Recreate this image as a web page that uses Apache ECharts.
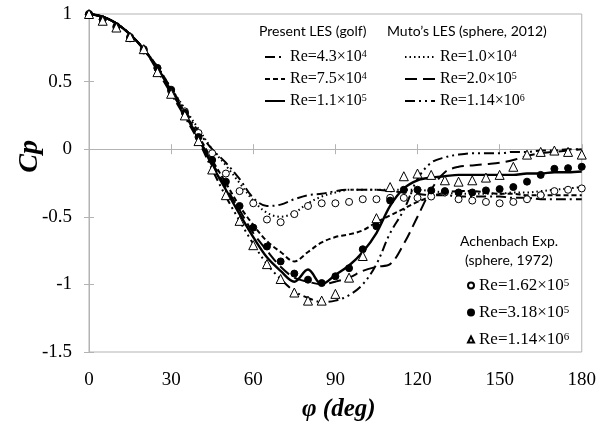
<!DOCTYPE html>
<html>
<head>
<meta charset="utf-8">
<script src="https://cdn.jsdelivr.net/npm/echarts@6/dist/echarts.min.js"></script>
<style>
  html, body { margin: 0; padding: 0; background: #fff; }
  #chart { width: 599px; height: 426px; }
</style>
</head>
<body>
<div id="chart"></div>
<script>
// angle from the front stagnation point (deg)
const phi = [0, 5, 10, 15, 20, 25, 30, 35, 40, 45, 50, 55, 60, 65, 70, 75, 80, 85, 90,
  95, 100, 105, 110, 115, 120, 125, 130, 135, 140, 145, 150, 155, 160, 165, 170, 175, 180];

// Present LES (golf)
const golf43 = [1.0, 0.98, 0.93, 0.85, 0.74, 0.61, 0.45, 0.29, 0.13, 0.0, -0.1, -0.22, -0.36, -0.42, -0.41, -0.37, -0.34, -0.33, -0.31,
  -0.3, -0.3, -0.3, -0.31, -0.32, -0.33, -0.34, -0.34, -0.35, -0.35, -0.35, -0.35, -0.36, -0.36, -0.37, -0.37, -0.37, -0.37];
const golf75 = [1.0, 0.98, 0.93, 0.85, 0.74, 0.6, 0.44, 0.27, 0.1, -0.08, -0.25, -0.42, -0.56, -0.68, -0.76, -0.83, -0.76, -0.69, -0.65,
  -0.63, -0.6, -0.54, -0.49, -0.44, -0.39, -0.35, -0.32, -0.31, -0.31, -0.32, -0.33, -0.33, -0.34, -0.34, -0.34, -0.34, -0.34];
const golf11 = [1.0, 0.98, 0.93, 0.85, 0.74, 0.6, 0.43, 0.26, 0.08, -0.12, -0.3, -0.48, -0.65, -0.8, -0.9, -0.98, -0.89, -1.0, -0.93,
  -0.86, -0.76, -0.62, -0.42, -0.29, -0.23, -0.21, -0.2, -0.19, -0.19, -0.19, -0.19, -0.19, -0.18, -0.18, -0.17, -0.17, -0.165];

// Muto's LES (sphere, 2012)
const muto10k = [1.0, 0.98, 0.93, 0.85, 0.74, 0.61, 0.45, 0.3, 0.15, 0.0, -0.12, -0.25, -0.38, -0.47, -0.5, -0.47, -0.4, -0.35, -0.32,
  -0.3, -0.3, -0.3, -0.3, -0.3, -0.3, -0.31, -0.32, -0.33, -0.33, -0.33, -0.33, -0.32, -0.32, -0.31, -0.3, -0.29, -0.28];
const muto200k = [1.0, 0.98, 0.93, 0.85, 0.74, 0.6, 0.43, 0.26, 0.08, -0.1, -0.28, -0.45, -0.62, -0.75, -0.87, -0.95, -0.98, -1.0, -0.98,
  -0.95, -0.9, -0.87, -0.85, -0.7, -0.5, -0.3, -0.17, -0.13, -0.12, -0.11, -0.1, -0.08, -0.05, -0.03, -0.02, -0.01, 0.0];
const muto114 = [1.0, 0.98, 0.93, 0.85, 0.74, 0.58, 0.41, 0.24, 0.06, -0.15, -0.35, -0.53, -0.7, -0.85, -0.96, -1.05, -1.1, -1.13, -1.12,
  -1.08, -1.0, -0.85, -0.62, -0.45, -0.22, -0.1, -0.06, -0.04, -0.03, -0.03, -0.03, -0.02, -0.02, -0.01, -0.01, 0.0, 0.0];

// Achenbach Exp. (sphere, 1972)
const ach162 = [1.0, 0.96, 0.9, 0.82, 0.73, 0.6, 0.43, 0.28, 0.12, -0.03, -0.18, -0.31, -0.4, -0.52, -0.54, -0.48, -0.42, -0.4, -0.4,
  -0.39, -0.37, -0.37, -0.36, -0.36, -0.36, -0.35, -0.32, -0.37, -0.38, -0.39, -0.4, -0.39, -0.37, -0.34, -0.31, -0.3, -0.29];
const ach318 = [1.0, 0.96, 0.91, 0.83, 0.74, 0.6, 0.44, 0.27, 0.09, -0.08, -0.24, -0.42, -0.58, -0.72, -0.83, -0.92, -0.965, -0.99, -0.94,
  -0.88, -0.74, -0.57, -0.38, -0.3, -0.3, -0.305, -0.31, -0.32, -0.32, -0.305, -0.295, -0.28, -0.24, -0.19, -0.145, -0.14, -0.13];
const ach114 = [1.0, 0.95, 0.9, 0.83, 0.74, 0.57, 0.41, 0.25, 0.06, -0.15, -0.34, -0.53, -0.71, -0.85, -0.96, -1.06, -1.12, -1.12, -1.07,
  -0.95, -0.79, -0.51, -0.28, -0.2, -0.18, -0.19, -0.23, -0.24, -0.23, -0.21, -0.19, -0.13, -0.04, -0.02, -0.01, -0.02, -0.04];

// legend labels (mantissa, exponent)
const labels = {
  golf43: ['4.3', '4'], golf75: ['7.5', '4'], golf11: ['1.1', '5'],
  muto10k: ['1.0', '4'], muto200k: ['2.0', '5'], muto114: ['1.14', '6'],
  ach162: ['1.62', '5'], ach318: ['3.18', '5'], ach114: ['1.14', '6']
};

const serif = '"Liberation Serif", "Times New Roman", serif';
const sans = 'Lato, "Open Sans", sans-serif';
const pair = (ys) => phi.map((p, i) => [p, ys[i]]);

const lineSeries = (name, ys, dash, width) => ({
  name: name,
  type: 'line',
  data: pair(ys),
  smooth: 0.35,
  symbol: 'none',
  lineStyle: { color: '#000', width: width || 2, type: dash, cap: 'butt' },
  itemStyle: { color: '#000' },
  z: 2
});
const pointSeries = (name, ys, symbol, fill, size) => ({
  name: name,
  type: 'scatter',
  data: pair(ys),
  symbol: symbol,
  symbolSize: size,
  itemStyle: { color: fill, borderColor: '#000', borderWidth: 1, opacity: 1 },
  z: 3
});

const legendText = (name) => {
  const l = labels[name];
  return 'Re=' + l[0] + '×10{s|' + l[1] + '}';
};
const legendBase = (data, left, top, size, extra) => Object.assign({
  data: data,
  left: left,
  top: top,
  orient: 'vertical',
  selectedMode: false,
  formatter: legendText,
  textStyle: {
    fontFamily: serif, fontSize: size, color: '#000', lineHeight: 16,
    rich: { s: { fontFamily: serif, fontSize: Math.round(size * 0.62), lineHeight: 16, verticalAlign: 'top', padding: [0, 0, 7, 0] } }
  }
}, extra);

const chart = echarts.init(document.getElementById('chart'));
chart.setOption({
  animation: false,
  grid: { left: 89, right: 16, top: 14, bottom: 74, show: true, borderColor: '#b3b3b3', borderWidth: 1 },
  xAxis: [{
    type: 'value', min: 0, max: 180, interval: 30,
    axisLine: { lineStyle: { color: '#b3b3b3' } },
    axisTick: { inside: true, length: 5, lineStyle: { color: '#b3b3b3' } },
    splitLine: { show: false },
    axisLabel: { fontFamily: serif, fontSize: 19, color: '#000', margin: 19 }
  }, {
    type: 'value', min: 0, max: 180, interval: 30, position: 'top',
    axisLine: { show: false },
    axisTick: { inside: true, length: 5, lineStyle: { color: '#b3b3b3' } },
    axisLabel: { show: false }, splitLine: { show: false }
  }],
  yAxis: [{
    type: 'value', min: -1.5, max: 1, interval: 0.5,
    axisLine: { show: true, lineStyle: { color: '#b3b3b3' } },
    axisTick: { show: true, inside: true, length: 5, lineStyle: { color: '#b3b3b3' } },
    splitLine: { show: false },
    axisLabel: { fontFamily: serif, fontSize: 19, color: '#000', margin: 17 }
  }, {
    type: 'value', min: -1.5, max: 1, interval: 0.5, position: 'right',
    axisLine: { show: false },
    axisTick: { show: true, inside: true, length: 5, lineStyle: { color: '#b3b3b3' } },
    axisLabel: { show: false }, splitLine: { show: false }
  }],
  legend: [
    legendBase(['golf43', 'golf75', 'golf11'], 259, 44, 16,
      { itemWidth: 20, itemHeight: 14, itemGap: 5, itemStyle: { opacity: 0 } }),
    legendBase(['muto10k', 'muto200k', 'muto114'], 399, 44, 16,
      { itemWidth: 30, itemHeight: 14, itemGap: 5, itemStyle: { opacity: 0 } }),
    legendBase(['ach162', 'ach318', 'ach114'], 462, 272, 17,
      { itemWidth: 6, itemHeight: 6, itemGap: 8.5 })
  ],
  graphic: [
    { type: 'text', left: 259, top: 24, style: { text: 'Present LES (golf)', font: '14px ' + sans, fill: '#000' } },
    { type: 'text', left: 387, top: 24, style: { text: 'Muto\u2019s LES (sphere, 2012)', font: '14px ' + sans, fill: '#000' } },
    { type: 'text', left: 460, top: 234, style: { text: 'Achenbach Exp.', font: '14px ' + sans, fill: '#000' } },
    { type: 'text', left: 465, top: 253, style: { text: '(sphere, 1972)', font: '14px ' + sans, fill: '#000' } },
    { type: 'text', left: 302, top: 397, style: { text: '\u03c6 (deg)', font: 'italic bold 25px ' + serif, fill: '#000' } },
    { type: 'text', left: 16, top: 140, rotation: Math.PI / 2, style: { text: 'Cp', font: 'italic bold 28px ' + serif, fill: '#000' } }
  ],
  series: [
    lineSeries('golf43', golf43, [10, 4, 2, 4]),
    lineSeries('golf75', golf75, [5, 3]),
    lineSeries('golf11', golf11, 'solid', 2.4),
    lineSeries('muto10k', muto10k, [1.5, 3]),
    lineSeries('muto200k', muto200k, [12, 6]),
    lineSeries('muto114', muto114, [10, 4, 2, 4, 2, 4]),
    pointSeries('ach162', ach162, 'circle', '#fff', 7),
    pointSeries('ach318', ach318, 'circle', '#000', 7),
    pointSeries('ach114', ach114, 'triangle', '#fff', 9)
  ]
});
</script>
</body>
</html>
